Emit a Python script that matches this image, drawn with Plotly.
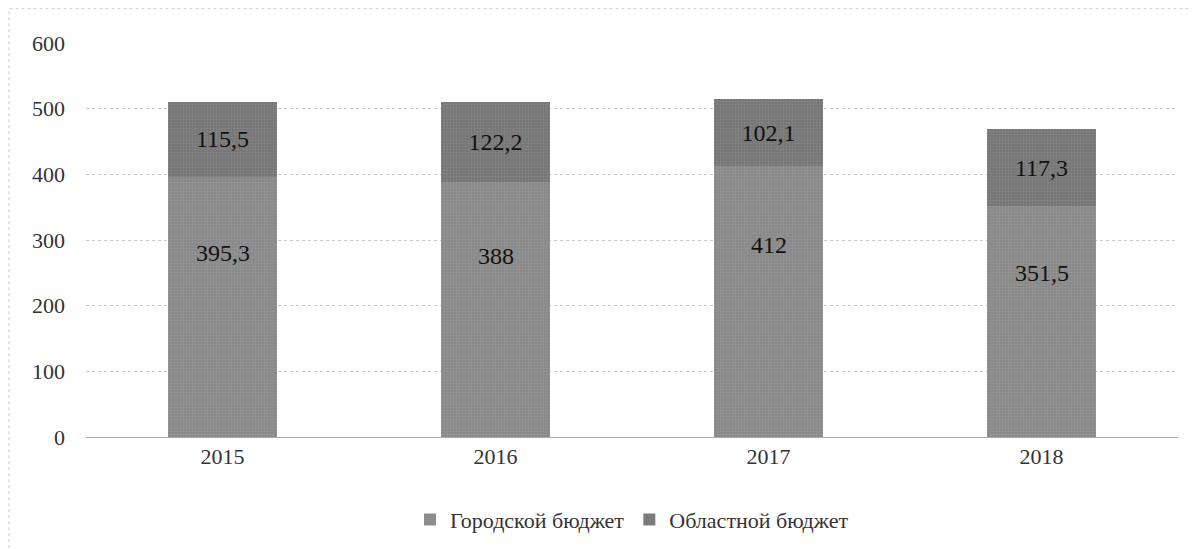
import plotly.graph_objects as go

years = ["2015", "2016", "2017", "2018"]
city = [395.3, 388, 412, 351.5]
region = [115.5, 122.2, 102.1, 117.3]
city_name = "Городской бюджет"
region_name = "Областной бюджет"
y_ticks = [0, 100, 200, 300, 400, 500, 600]

def fmt(v):
    s = ("%g" % v).replace(".", ",")
    return s

font_family = "Liberation Serif, Times New Roman, serif"

fig = go.Figure()
fig.add_trace(go.Bar(
    x=years, y=city, name=city_name,
    marker=dict(color="#878787", line=dict(color="#878787", width=0),
                pattern=dict(shape=".", size=3, solidity=0.35, fgcolor="#a8a8a8")),
    hoverinfo="skip",
))
fig.add_trace(go.Bar(
    x=years, y=region, name=region_name,
    text=[fmt(v) for v in region], textposition="inside", insidetextanchor="middle",
    textfont=dict(family=font_family, size=24, color="#111111"),
    marker=dict(color="#767676", line=dict(color="#767676", width=0),
                pattern=dict(shape=".", size=3, solidity=0.35, fgcolor="#949494")),
    hoverinfo="skip",
))

for i, v in enumerate(city):
    fig.add_annotation(x=i, y=v * 0.71, text=fmt(v), showarrow=False,
                       font=dict(family=font_family, size=24, color="#111111"))

fig.update_layout(
    width=1200, height=549,
    barmode="stack", bargap=0.6,
    paper_bgcolor="white", plot_bgcolor="white",
    margin=dict(l=78, r=30, t=35, b=120),
    font=dict(family=font_family, size=22, color="#333333"),
    showlegend=True,
    legend=dict(orientation="h", x=0.5, xanchor="center", y=-0.21, yanchor="middle",
                font=dict(family=font_family, size=22, color="#333333"),
                traceorder="normal", itemwidth=30),
    xaxis=dict(type="category", range=[-0.5, len(years) - 0.5], showline=True,
               linecolor="#aaaaaa", linewidth=1, ticks="", tickfont=dict(size=22)),
    yaxis=dict(range=[0, 600], tickvals=y_ticks, showgrid=True,
               gridcolor="#c8c8c8", griddash="dot", gridwidth=1,
               zeroline=False, ticks="", ticklabelstandoff=20,
               tickfont=dict(size=22)),
)
fig.add_shape(type="rect", xref="paper", yref="paper", x0=-0.0705, x1=1.04, y0=-0.35, y1=1.087,
              line=dict(color="#cccccc", width=1, dash="dot"))

fig.write_html("out.html")
